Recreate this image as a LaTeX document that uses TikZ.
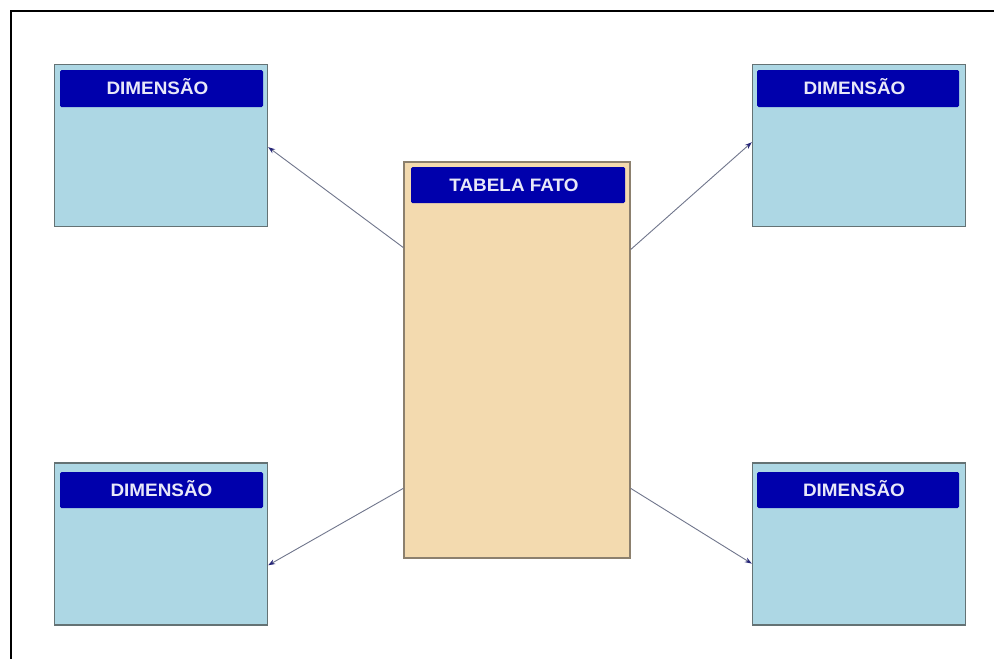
\documentclass[tikz,border=0pt]{standalone}
\usepackage{fontspec}
\setmainfont{Liberation Sans}
\usetikzlibrary{arrows.meta,calc}
\definecolor{dimfill}{RGB}{173,215,228}
\definecolor{fatofill}{RGB}{243,218,175}
\definecolor{headblue}{RGB}{0,0,172}
\definecolor{headtext}{RGB}{232,232,248}
\definecolor{boxline}{RGB}{100,114,116}
\definecolor{fatoline}{RGB}{140,128,110}
\definecolor{linkline}{RGB}{112,118,140}
\definecolor{tipblue}{RGB}{40,40,120}
\tikzset{
  dimbox/.style={draw=boxline, line width=1.4pt, fill=dimfill,
    minimum width=213pt, minimum height=162pt, inner sep=0pt},
  fatobox/.style={draw=fatoline, line width=1.4pt, fill=fatofill,
    minimum width=226pt, minimum height=396pt, inner sep=0pt},
  headbar/.style={fill=headblue, rounded corners=1.5pt, inner sep=0pt,
    text=headtext, font=\fontsize{18}{20}\selectfont\bfseries,
    text height=12.9pt, text depth=0pt},
  link/.style={draw=linkline, line width=0.9pt,
    -{Stealth[length=7pt,width=5pt,color=tipblue,fill=tipblue]}},
}
% header caption, widened a little
\newcommand\headcap[1]{\scalebox{1.05}[1]{#1}}
\begin{document}
\begin{tikzpicture}[x=1pt,y=-1pt]
\useasboundingbox (0,0) rectangle (994,659);
\fill[white] (0,0) rectangle (994,659);
% outer frame (left and top edges)
\draw[line width=2pt] (10.5,659) -- (10.5,10.5) -- (994,10.5);

% dimension tables
\node[dimbox] (d1) at (161,145.5) {};
\node[dimbox] (d2) at (859,145.5) {};
\node[dimbox] (d3) at (161,544) {};
\node[dimbox] (d4) at (859,544) {};
\node[headbar, minimum width=203pt, minimum height=37pt] (h1) at (161.5,88.5) {\hspace{-8pt}\headcap{DIMENSÃO}};
\node[headbar, minimum width=202pt, minimum height=37pt] (h2) at (858,88.5) {\hspace{-7pt}\headcap{DIMENSÃO}};
\node[headbar, minimum width=203pt, minimum height=36pt] (h3) at (161.5,490) {\headcap{DIMENSÃO}};
\node[headbar, minimum width=202pt, minimum height=36pt] (h4) at (858,490) {\hspace{-8pt}\headcap{DIMENSÃO}};

% fact table
\node[fatobox] (f) at (517,360) {};
\node[headbar, minimum width=214pt, minimum height=36pt] (hf) at (518,185) {\hspace{-8pt}\headcap{TABELA FATO}};

% links from the fact table to each dimension
\draw[link] ($(f.north west)!0.217!(f.south west)$) -- ($(d1.north east)!0.51!(d1.south east)$);
\draw[link] ($(f.north east)!0.222!(f.south east)$) -- ($(d2.north west)!0.48!(d2.south west)$);
\draw[link] ($(f.north west)!0.823!(f.south west)$) -- ($(d3.north east)!0.63!(d3.south east)$);
\draw[link] ($(f.north east)!0.823!(f.south east)$) -- ($(d4.north west)!0.62!(d4.south west)$);
\end{tikzpicture}
\end{document}
